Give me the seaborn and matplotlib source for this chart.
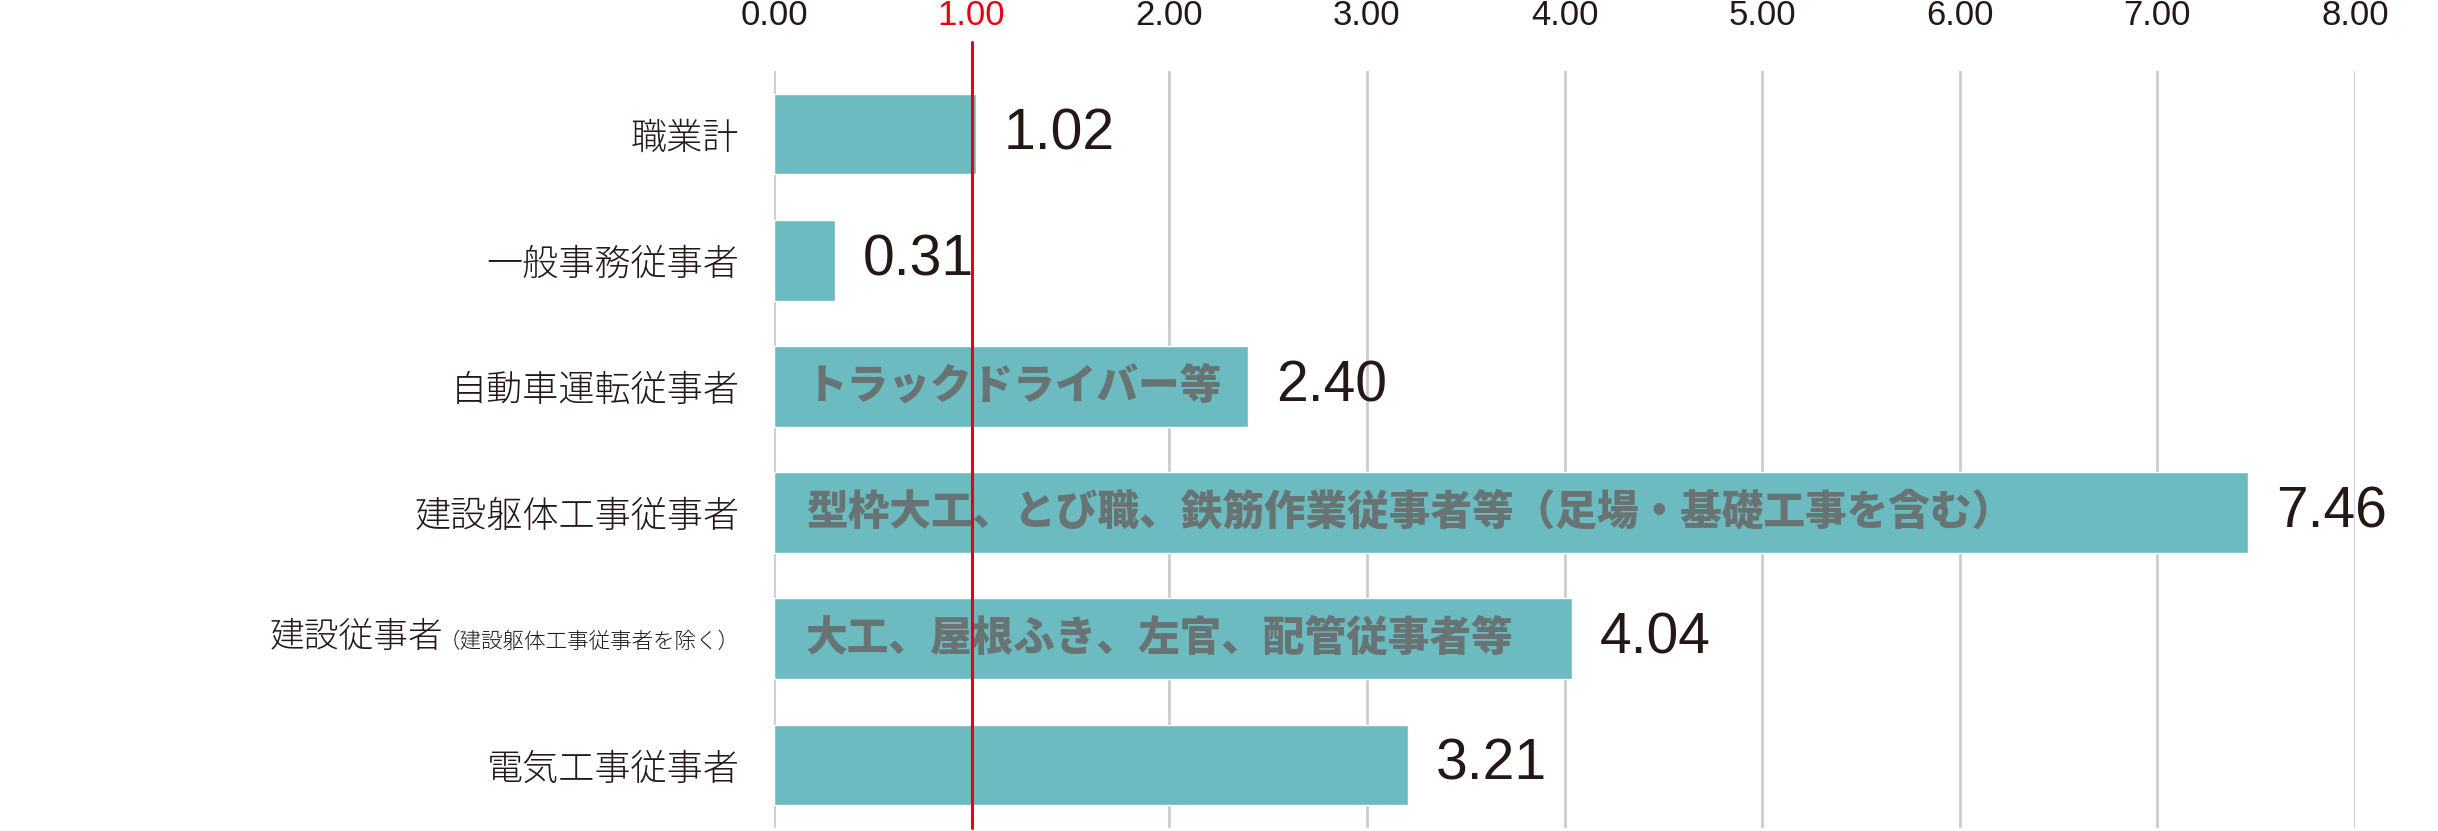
import seaborn as sns
import matplotlib.pyplot as plt
from matplotlib import font_manager

categories = ['職業計', '一般事務従事者', '自動車運転従事者', '建設躯体工事従事者', '建設従事者', '電気工事従事者']
values = [1.02, 0.31, 2.40, 7.46, 4.04, 3.21]
notes = ['', '', 'トラックドライバー等',
         '型枠大工、とび職、鉄筋作業従事者等（足場・基礎工事を含む）',
         '大工、屋根ふき、左官、配管従事者等', '']
sub_note = '（建設躯体工事従事者を除く）'
xticks = [0, 1, 2, 3, 4, 5, 6, 7, 8]
xtick_labels = ['0.00', '1.00', '2.00', '3.00', '4.00', '5.00', '6.00', '7.00', '8.00']

bar_color = '#6cbbc0'
note_color = '#687474'
red = '#e60012'
dark = '#231815'

sns.set_theme(style='white')
plt.rcParams['font.family'] = ['Noto Sans CJK JP', 'DejaVu Sans']


def pick(name, default):
  try:
    font_manager.findfont(name, fallback_to_default=False)
    return name
  except Exception:
    return default

num_font = pick('Liberation Sans', 'DejaVu Sans')
narrow_font = pick('Liberation Sans Narrow', num_font)
num_size = 44 if narrow_font != num_font else 41

fig = plt.figure(figsize=(24.38, 8.31), dpi=100)
ax = fig.add_axes([774 / 2438, 3 / 831, (2355 - 774) / 2438, (828 - 71) / 831])

sns.barplot(x=values, y=categories, orient='h', color=bar_color, saturation=1,
            width=0.64, ax=ax, zorder=2)

ax.set_xlim(0, 8)
ax.set_ylim(5.5, -0.5)
ax.set_xticks(xticks)
ax.set_xticklabels(xtick_labels, family=num_font, fontsize=25, color=dark)
ax.xaxis.tick_top()
ax.tick_params(axis='x', length=0, pad=28)
ax.xaxis.get_ticklabels()[1].set_color(red)
ax.grid(axis='x', color='#cccccc', lw=2, zorder=0)
ax.grid(axis='y', visible=False)
for s in ax.spines.values():
  s.set_visible(False)

ylabels = [c if c != '建設従事者' else '' for c in categories]
ax.set_yticks(range(len(categories)))
ax.set_yticklabels(ylabels, fontsize=26, color=dark, fontweight='light')
ax.tick_params(axis='y', length=0, pad=25)
ax.set_xlabel('')
ax.set_ylabel('')

# two-size label for 建設従事者
i = categories.index('建設従事者')
small = ax.annotate(sub_note, xy=(0, i), xytext=(-25, -2), textcoords='offset points',
                    ha='right', va='center', fontsize=15.5, color=dark,
                    fontweight='light', annotation_clip=False)
ax.annotate('建設従事者', xy=(0, 0), xycoords=small, xytext=(4, -2),
            textcoords='offset points', ha='right', va='bottom', fontsize=25,
            color=dark, fontweight='light')

ax.axvline(1, ymin=0, ymax=1 + 29 / 757, color=red, lw=2.2, clip_on=False, zorder=5)

for k, (v, note) in enumerate(zip(values, notes)):
  ax.annotate(f'{v:.2f}', xy=(v, k), xytext=(20, 0), textcoords='offset points',
              ha='left', va='center', family=narrow_font, fontsize=num_size, color=dark,
              annotation_clip=False)
  if note:
    ax.annotate(note, xy=(0, k), xytext=(23, 0), textcoords='offset points',
                ha='left', va='center', fontsize=30, fontweight='heavy',
                color=note_color, zorder=4)

fig.savefig('out.png', dpi=100)
